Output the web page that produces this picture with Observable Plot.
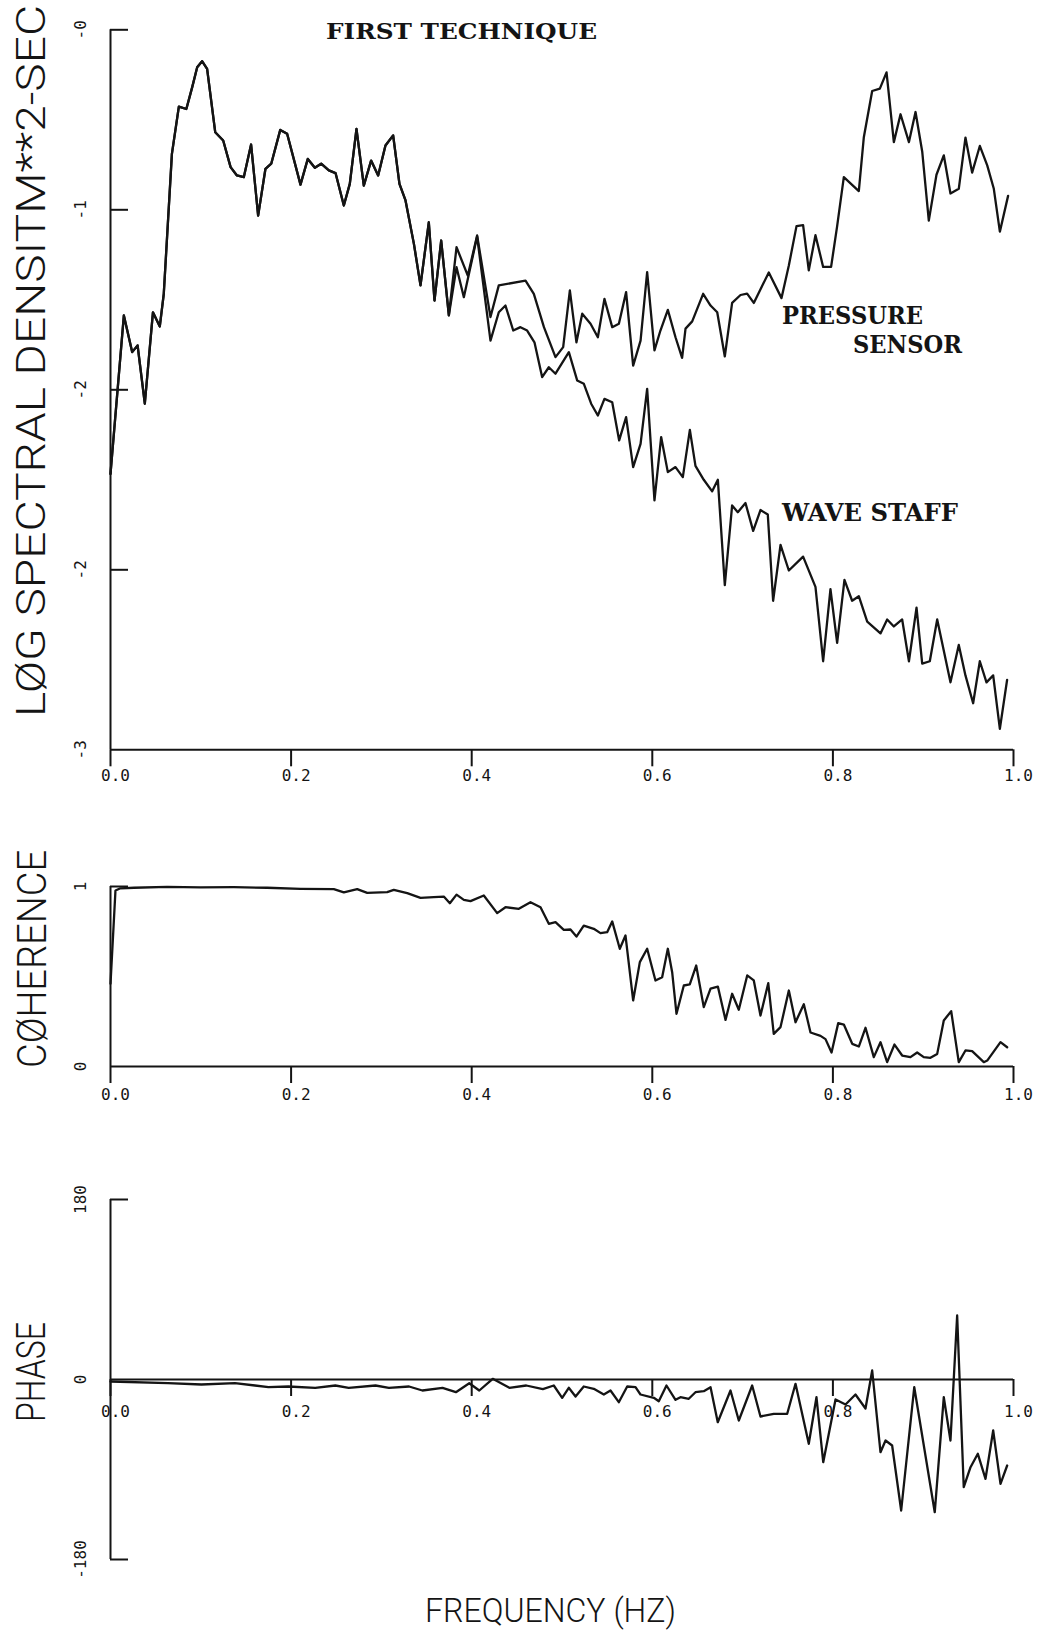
<!DOCTYPE html>
<html>
<head>
<meta charset="utf-8">
<script src="https://cdn.jsdelivr.net/npm/d3@7"></script>
<script src="https://cdn.jsdelivr.net/npm/@observablehq/plot@0.6"></script>
<style>
  html, body { margin: 0; padding: 0; background: #ffffff; }
  #page { position: relative; width: 1050px; height: 1634px; overflow: hidden; background: #ffffff; }
  #page svg { position: absolute; left: 0; }
</style>
</head>
<body>
<div id="page"></div>
<script>
// ---------------- DATA ----------------
const xTicks = [0, 0.2, 0.4, 0.6, 0.8, 1.0];
const xTickLabels = ["0.0", "0.2", "0.4", "0.6", "0.8", "1.0"];
const spectrumTicks = [0, -0.75, -1.5, -2.25, -3];
const spectrumTickLabels = ["-0", "-1", "-2", "-2", "-3"];
const coherenceTicks = [1, 0];
const coherenceTickLabels = ["1", "0"];
const phaseTicks = [180, 0, -180];
const phaseTickLabels = ["180", "0", "-180"];

// common low-frequency part of both log spectra  [frequency Hz, log density]
const sharedSpectrum = [
  [0, -1.85], [0.0148, -1.19], [0.024, -1.343], [0.030, -1.315], [0.038, -1.558],
  [0.047, -1.177], [0.0546, -1.236], [0.059, -1.10], [0.068, -0.517], [0.0757, -0.32],
  [0.084, -0.33], [0.0905, -0.239], [0.096, -0.156], [0.1014, -0.131], [0.107, -0.163],
  [0.116, -0.427], [0.1248, -0.461], [0.133, -0.572], [0.140, -0.607], [0.1476, -0.614],
  [0.1557, -0.478], [0.1635, -0.774], [0.1716, -0.579], [0.178, -0.558], [0.188, -0.417],
  [0.1956, -0.433], [0.2104, -0.645], [0.2185, -0.538], [0.2263, -0.575], [0.2333, -0.558],
  [0.2418, -0.586], [0.2492, -0.597], [0.2584, -0.732], [0.265, -0.642], [0.2724, -0.4125],
  [0.2805, -0.649], [0.2886, -0.545], [0.2964, -0.607], [0.3045, -0.482], [0.313, -0.440],
  [0.320, -0.642], [0.3267, -0.711], [0.336, -0.892], [0.3433, -1.065], [0.3525, -0.802],
  [0.3588, -1.128], [0.3662, -0.878], [0.3747, -1.19]
];

const pressureHigh = [
  [0.3832, -0.906], [0.3957, -1.024], [0.406, -0.857], [0.4208, -1.197], [0.430, -1.065],
  [0.4596, -1.045], [0.4688, -1.10], [0.480, -1.239], [0.4928, -1.364], [0.5013, -1.322],
  [0.5087, -1.086], [0.516, -1.302], [0.5224, -1.183], [0.5316, -1.225], [0.5397, -1.281],
  [0.547, -1.121], [0.5556, -1.239], [0.563, -1.225], [0.571, -1.093], [0.5788, -1.399],
  [0.587, -1.295], [0.5943, -1.01], [0.6024, -1.336], [0.609, -1.253], [0.6172, -1.167],
  [0.6257, -1.281], [0.633, -1.367], [0.6368, -1.245], [0.6442, -1.215], [0.6563, -1.10],
  [0.6645, -1.149], [0.6719, -1.177], [0.6803, -1.361], [0.6884, -1.138], [0.6977, -1.105],
  [0.705, -1.099], [0.7124, -1.138], [0.729, -1.011], [0.7431, -1.118], [0.7512, -0.982],
  [0.7597, -0.818], [0.767, -0.814], [0.7733, -1.002], [0.7807, -0.856], [0.7892, -0.988],
  [0.798, -0.988], [0.8047, -0.818], [0.8121, -0.614], [0.8287, -0.672], [0.8342, -0.449],
  [0.8435, -0.255], [0.852, -0.245], [0.8594, -0.1775], [0.8675, -0.468], [0.8749, -0.352],
  [0.8842, -0.468], [0.8915, -0.3425], [0.8989, -0.507], [0.9062, -0.795], [0.9147, -0.604],
  [0.9228, -0.523], [0.9302, -0.682], [0.9394, -0.6625], [0.9468, -0.449], [0.9542, -0.595],
  [0.9627, -0.484], [0.9709, -0.565], [0.9782, -0.6625], [0.9849, -0.841], [0.994, -0.692]
];

const waveStaffHigh = [
  [0.3832, -0.989], [0.3913, -1.114], [0.406, -0.861], [0.4208, -1.295], [0.430, -1.177],
  [0.4374, -1.149], [0.446, -1.253], [0.454, -1.239], [0.4614, -1.253], [0.4695, -1.302],
  [0.478, -1.447], [0.4854, -1.406], [0.4928, -1.433], [0.5076, -1.343], [0.5168, -1.461],
  [0.5242, -1.475], [0.5323, -1.558], [0.5397, -1.607], [0.547, -1.538], [0.5556, -1.552],
  [0.5633, -1.711], [0.571, -1.614], [0.5788, -1.822], [0.587, -1.725], [0.5943, -1.496],
  [0.6024, -1.961], [0.6098, -1.697], [0.6172, -1.843], [0.6257, -1.822], [0.6338, -1.864],
  [0.6416, -1.667], [0.6478, -1.817], [0.657, -1.875], [0.6663, -1.923], [0.6726, -1.875],
  [0.6803, -2.314], [0.6884, -1.982], [0.6947, -2.01], [0.7032, -1.972], [0.7117, -2.088],
  [0.7198, -2.001], [0.7279, -2.02], [0.7338, -2.379], [0.742, -2.146], [0.7512, -2.253],
  [0.767, -2.195], [0.7807, -2.321], [0.7892, -2.631], [0.7973, -2.331], [0.8047, -2.554],
  [0.8128, -2.292], [0.8213, -2.379], [0.8287, -2.36], [0.838, -2.466], [0.8527, -2.515],
  [0.8601, -2.457], [0.8675, -2.486], [0.8767, -2.457], [0.8842, -2.631], [0.8926, -2.408],
  [0.8989, -2.641], [0.9073, -2.631], [0.9155, -2.457], [0.9302, -2.719], [0.9394, -2.563],
  [0.9468, -2.69], [0.9553, -2.806], [0.9627, -2.631], [0.9701, -2.719], [0.9775, -2.69],
  [0.9849, -2.913], [0.9929, -2.709]
];

const coherence = [
  [0, 0.46], [0.0055, 0.978], [0.011, 0.99], [0.026, 0.993], [0.0628, 0.998],
  [0.0997, 0.995], [0.1366, 0.996], [0.1735, 0.993], [0.2104, 0.987], [0.2473, 0.985],
  [0.2584, 0.967], [0.2732, 0.985], [0.2843, 0.965], [0.3064, 0.969], [0.3137, 0.981],
  [0.3286, 0.963], [0.3433, 0.937], [0.358, 0.941], [0.3691, 0.944], [0.3758, 0.907],
  [0.3832, 0.955], [0.3913, 0.926], [0.3987, 0.919], [0.4134, 0.95], [0.4282, 0.852],
  [0.4374, 0.885], [0.4522, 0.876], [0.4651, 0.913], [0.4762, 0.885], [0.4854, 0.793],
  [0.4928, 0.802], [0.502, 0.759], [0.5094, 0.761], [0.516, 0.722], [0.5241, 0.783],
  [0.5352, 0.765], [0.5426, 0.741], [0.55, 0.746], [0.5556, 0.806], [0.564, 0.654],
  [0.5703, 0.728], [0.5788, 0.367], [0.5862, 0.58], [0.5943, 0.654], [0.6035, 0.478],
  [0.6109, 0.496], [0.6172, 0.654], [0.622, 0.524], [0.6268, 0.293], [0.6349, 0.45],
  [0.6415, 0.456], [0.6486, 0.561], [0.657, 0.33], [0.6645, 0.433], [0.6726, 0.444],
  [0.6811, 0.259], [0.6884, 0.404], [0.6958, 0.315], [0.7051, 0.506], [0.7124, 0.478],
  [0.7198, 0.283], [0.7284, 0.463], [0.7345, 0.181], [0.742, 0.219], [0.7512, 0.422],
  [0.7586, 0.246], [0.7678, 0.346], [0.7752, 0.189], [0.7863, 0.17], [0.7918, 0.152],
  [0.7985, 0.078], [0.8059, 0.241], [0.8121, 0.233], [0.8214, 0.126], [0.8287, 0.111],
  [0.8361, 0.215], [0.8453, 0.052], [0.8527, 0.135], [0.8601, 0.024], [0.8682, 0.122],
  [0.8767, 0.061], [0.8859, 0.052], [0.8933, 0.078], [0.9006, 0.052], [0.908, 0.048],
  [0.9155, 0.07], [0.9228, 0.256], [0.931, 0.307], [0.9394, 0.024], [0.9468, 0.089],
  [0.9542, 0.085], [0.9671, 0.024], [0.9709, 0.033], [0.9856, 0.135], [0.993, 0.107]
];

const phase = [
  [0, -2], [0.0636, -3.7], [0.1007, -5], [0.1378, -3.7], [0.16, -6], [0.1749, -7.7],
  [0.1971, -7], [0.2267, -8.3], [0.249, -6], [0.2638, -8.3], [0.2935, -6], [0.3083, -8.3],
  [0.3306, -7], [0.3454, -11], [0.3677, -8.3], [0.3825, -12.7], [0.3973, -3.7], [0.4084, -11],
  [0.4233, 0.7], [0.4417, -8.3], [0.4604, -6], [0.4788, -9.7], [0.4909, -6], [0.5002, -18.3],
  [0.5075, -8.3], [0.515, -17], [0.5241, -7], [0.5352, -9.3], [0.5463, -15], [0.5537, -11],
  [0.5629, -22.7], [0.5722, -7], [0.5814, -7.7], [0.5869, -15], [0.6017, -18.3], [0.6072, -21.7],
  [0.6157, -6], [0.6257, -20.3], [0.6312, -17.7], [0.6404, -19.3], [0.6478, -12.7], [0.657, -11.7],
  [0.6645, -7.7], [0.6725, -42.7], [0.6866, -11], [0.6958, -41], [0.7106, -6], [0.7198, -37],
  [0.7345, -34.3], [0.7494, -34.3], [0.7586, -4.3], [0.7733, -64.3], [0.7818, -17.7], [0.7893, -82.7],
  [0.8029, -20], [0.814, -25], [0.825, -15], [0.8361, -29], [0.8435, 9], [0.8527, -72.7],
  [0.8583, -61], [0.8656, -66], [0.8756, -131], [0.8901, -7.7], [0.9128, -132.7], [0.9228, -17.7],
  [0.9302, -61], [0.9376, 64], [0.9449, -107.7], [0.9524, -87.7], [0.9605, -74.3], [0.969, -99.3],
  [0.9775, -51], [0.9856, -104.3], [0.993, -86]
];

const pressureSensor = sharedSpectrum.concat(pressureHigh);
const waveStaff = sharedSpectrum.concat(waveStaffHigh);

// ---------------- STYLE / LAYOUT ----------------
const ink = "#141414";
const tickFont = "DejaVu Sans Mono";
const page = document.getElementById("page");
const fx = d => d[0], fy = d => d[1];
const PX_PER_HZ = 903;

function place(svg, top) {
  svg.style.top = top + "px";
  page.appendChild(svg);
}

function xAxisMarks(yAxisValue, tickLenData, labelDy) {
  return [
    Plot.ruleY([yAxisValue], {stroke: ink, strokeWidth: 2}),
    Plot.ruleX(xTicks, {x: d => d, y1: yAxisValue, y2: yAxisValue - tickLenData, stroke: ink, strokeWidth: 2}),
    Plot.text(xTicks, {x: d => d, y: yAxisValue, text: (d, i) => xTickLabels[i], dy: labelDy, dx: 5,
      fontSize: 16, fontFamily: tickFont, fill: ink, letterSpacing: 1})
  ];
}
function yAxisMarks(ticks, labels, innerTicks) {
  return [
    Plot.ruleX([0], {stroke: ink, strokeWidth: 2}),
    Plot.ruleY(innerTicks, {y: d => d, x1: 0, x2: 18 / PX_PER_HZ, stroke: ink, strokeWidth: 2}),
    Plot.text(ticks, {x: 0, y: d => d, text: (d, i) => labels[i], rotate: -90, dx: -30,
      fontSize: 16, fontFamily: tickFont, fill: ink, textAnchor: "middle"})
  ];
}

// ---------------- PANEL 1 : LOG SPECTRA ----------------
const spectrumPlot = Plot.plot({
  width: 1050, height: 800,
  marginLeft: 110, marginRight: 37, marginTop: 29.3, marginBottom: 50.7,
  x: {domain: [0, 1], axis: null},
  y: {domain: [-3, 0], axis: null},
  style: {background: "transparent", overflow: "visible"},
  marks: [
    ...yAxisMarks(spectrumTicks, spectrumTickLabels, spectrumTicks.slice(0, 4)),
    ...xAxisMarks(-3, 17 / 240, 26),
    Plot.line(waveStaff, {x: fx, y: fy, stroke: ink, strokeWidth: 2.3, strokeLinejoin: "round"}),
    Plot.line(pressureSensor, {x: fx, y: fy, stroke: ink, strokeWidth: 2.3, strokeLinejoin: "round"})
  ]
});
place(spectrumPlot, 0);

// ---------------- PANEL 2 : COHERENCE ----------------
const coherencePlot = Plot.plot({
  width: 1050, height: 310,
  marginLeft: 110, marginRight: 37, marginTop: 76, marginBottom: 54,
  x: {domain: [0, 1], axis: null},
  y: {domain: [0, 1], axis: null},
  style: {background: "transparent", overflow: "visible"},
  marks: [
    ...yAxisMarks(coherenceTicks, coherenceTickLabels, [1]),
    ...xAxisMarks(0, 17 / 180, 28),
    Plot.line(coherence, {x: fx, y: fy, stroke: ink, strokeWidth: 2.3, strokeLinejoin: "round"})
  ]
});
place(coherencePlot, 810);

// ---------------- PANEL 3 : PHASE ----------------
const phasePlot = Plot.plot({
  width: 1050, height: 460,
  marginLeft: 110, marginRight: 37, marginTop: 69, marginBottom: 31,
  x: {domain: [0, 1], axis: null},
  y: {domain: [-180, 180], axis: null},
  style: {background: "transparent", overflow: "visible"},
  marks: [
    ...yAxisMarks(phaseTicks, phaseTickLabels, [180, -180]),
    ...xAxisMarks(0, 17, 32),
    Plot.line(phase, {x: fx, y: fy, stroke: ink, strokeWidth: 2.3, strokeLinejoin: "round"})
  ]
});
place(phasePlot, 1130);

// ---------------- TEXT (titles, annotations, axis titles) ----------------
const overlay = d3.create("svg")
  .attr("width", 1050).attr("height", 1634)
  .style("top", "0px").style("pointer-events", "none");
const typeFont = "DejaVu Serif";
const plotterFont = "Roboto, 'DejaVu Sans', sans-serif";
const texts = [
  {t: "FIRST TECHNIQUE", x: 326, y: 39, len: 271, font: typeFont, size: 23, weight: 700},
  {t: "PRESSURE", x: 782, y: 324, len: 141, font: typeFont, size: 24, weight: 700},
  {t: "SENSOR", x: 853, y: 353, len: 109, font: typeFont, size: 24, weight: 700},
  {t: "WAVE STAFF", x: 782, y: 521, len: 176, font: typeFont, size: 24, weight: 700},
  {t: "FREQUENCY (HZ)", x: 425, y: 1622, len: 251, font: plotterFont, size: 34, weight: 300},
  {t: "LØG SPECTRAL DENSITM**2-SEC", x: 45, y: 717, len: 712, font: plotterFont, size: 40, weight: 300, rot: -90},
  {t: "CØHERENCE", x: 46, y: 1068, len: 218, font: plotterFont, size: 40, weight: 300, rot: -90},
  {t: "PHASE", x: 45, y: 1422, len: 100, font: plotterFont, size: 40, weight: 300, rot: -90}
];
for (const s of texts) {
  overlay.append("text")
    .attr("transform", `translate(${s.x},${s.y})` + (s.rot ? ` rotate(${s.rot})` : ""))
    .attr("font-family", s.font)
    .attr("font-size", s.size)
    .attr("font-weight", s.weight)
    .attr("fill", ink)
    .attr("textLength", s.len)
    .attr("lengthAdjust", "spacingAndGlyphs")
    .text(s.t);
}
page.appendChild(overlay.node());
</script>
</body>
</html>
